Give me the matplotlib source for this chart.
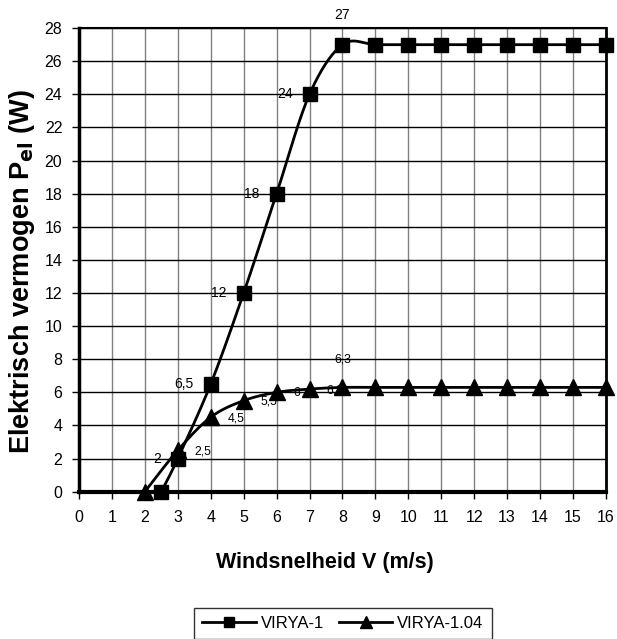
import numpy as np
import matplotlib.pyplot as plt

plt.rcParams['font.family'] = ['Liberation Sans', 'DejaVu Sans']

# data
v1_x = [2.5, 3, 4, 5, 6, 7, 8, 9, 10, 11, 12, 13, 14, 15, 16]
v1_y = [0, 2, 6.5, 12, 18, 24, 27, 27, 27, 27, 27, 27, 27, 27, 27]
v2_x = [2, 3, 4, 5, 6, 7, 8, 9, 10, 11, 12, 13, 14, 15, 16]
v2_y = [0, 2.5, 4.5, 5.5, 6, 6.2, 6.3, 6.3, 6.3, 6.3, 6.3, 6.3, 6.3, 6.3, 6.3]
v1_labels = ['', '2', '6,5', '12', '18', '24', '27']
v2_labels = ['', '2,5', '4,5', '5,5', '6', '6,2', '6,3']


def smooth(xs, ys, n=30):
    # excel-like bezier smoothing
    p = np.column_stack([xs, ys]).astype(float)
    out = []
    for i in range(len(p) - 1):
        p0 = p[i - 1] if i > 0 else p[i]
        p3 = p[i + 2] if i + 2 < len(p) else p[i + 1]
        c1 = p[i] + (p[i + 1] - p0) / 6
        c2 = p[i + 1] - (p3 - p[i]) / 6
        t = np.linspace(0, 1, n)[:, None]
        seg = ((1 - t) ** 3 * p[i] + 3 * (1 - t) ** 2 * t * c1
               + 3 * (1 - t) * t ** 2 * c2 + t ** 3 * p[i + 1])
        out.append(seg)
    out = np.vstack(out)
    return out[:, 0], out[:, 1]


fig = plt.figure(figsize=(6.17, 6.39), dpi=100)
ax = fig.add_axes([0.128, 0.2305, 0.854, 0.7255])

sx, sy = smooth(v1_x, v1_y)
ax.plot(sx, sy, color='black', lw=2, zorder=3)
ax.plot(v1_x, v1_y, ls='none', marker='s', ms=10, color='black', zorder=6, clip_on=False)
sx, sy = smooth(v2_x, v2_y)
ax.plot(sx, sy, color='black', lw=2, zorder=3)
ax.plot(v2_x, v2_y, ls='none', marker='^', ms=11, color='black', zorder=6, clip_on=False)

for i, lab in enumerate(v1_labels):
    if not lab:
        continue
    if i == len(v1_labels) - 1:
        ax.annotate(lab, (v1_x[i], v1_y[i]), xytext=(0, 30), textcoords='offset pixels',
                    ha='center', va='center', fontsize=10, zorder=2)
    else:
        ax.annotate(lab, (v1_x[i], v1_y[i]), xytext=(-17, 0), textcoords='offset pixels',
                    ha='right', va='center', fontsize=10, zorder=2)
for i, lab in enumerate(v2_labels):
    if not lab:
        continue
    if i == len(v2_labels) - 1:
        ax.annotate(lab, (v2_x[i], v2_y[i]), xytext=(0, 28), textcoords='offset pixels',
                    ha='center', va='center', fontsize=8.8, zorder=2)
    else:
        ax.annotate(lab, (v2_x[i], v2_y[i]), xytext=(17, -1), textcoords='offset pixels',
                    ha='left', va='center', fontsize=8.8, zorder=2)

ax.set_xlim(0, 16)
ax.set_ylim(0, 28)
ax.set_xticks(range(0, 17))
ax.set_yticks(range(0, 29, 2))
ax.tick_params(labelsize=11.5, direction='out', length=5, width=1, colors='black')
ax.tick_params(axis='x', pad=8)
ax.tick_params(axis='y', pad=7)
for x in range(1, 16):
    ax.axvline(x, color='#808080', lw=1, zorder=1)
for y in range(2, 29, 2):
    ax.axhline(y, color='black', lw=1, zorder=1)
ax.spines['left'].set_linewidth(2.5)
ax.spines['bottom'].set_linewidth(3)
ax.spines['right'].set_linewidth(2)
ax.spines['top'].set_linewidth(1.5)
for s in ax.spines.values():
    s.set_zorder(5)
    s.set_clip_on(False)

fig.text(0.527, 0.111, 'Windsnelheid V (m/s)', fontsize=15.5, fontweight='bold',
         ha='center', va='baseline')
fig.text(0.035, 0.575, r'Elektrisch vermogen P$_{\mathbf{el}}$ (W)', fontsize=19.5,
         fontweight='bold', rotation=90, ha='center', va='center')

h1, = ax.plot([], [], color='black', lw=2, marker='s', ms=7)
h2, = ax.plot([], [], color='black', lw=2, marker='^', ms=8.5)
fig.legend([h1, h2], ['VIRYA-1', 'VIRYA-1.04'], loc='center', bbox_to_anchor=(0.556, 0.024),
           ncol=2, frameon=True, fancybox=False, edgecolor='black', fontsize=12,
           handlelength=3.2, columnspacing=0.9, handletextpad=0.3, borderpad=0.5)

fig.savefig('out.png', dpi=100)
